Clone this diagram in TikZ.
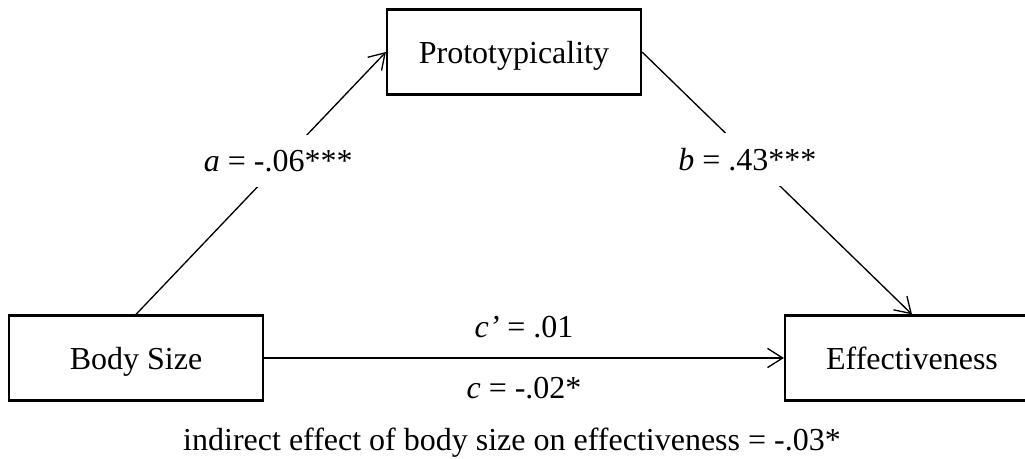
\documentclass[tikz,border=0pt]{standalone}
\usepackage{fontspec}
\setmainfont{Liberation Serif}
\usetikzlibrary{arrows.meta}

\begin{document}
\begin{tikzpicture}[x=0.375pt,y=-0.375pt,line width=0.5pt,>={Straight Barb[length=5.7pt,width=7.2pt]},
  font=\fontsize{12}{14}\selectfont,
  var/.style={draw,line width=0.8pt,minimum width=95.25pt,minimum height=31.9pt,inner sep=0pt,text depth=0pt},
  coef/.style={fill=white,inner xsep=2pt,inner ysep=5.6pt}]
  \useasboundingbox (0,0) rectangle (1025,459);
  \node[var] (proto) at (514,52) {Prototypicality};
  \node[var] (body) at (136,358) {Body Size};
  \node[var] (effect) at (912,358) {Effectiveness};
  % paths a and b, the labels blank out the line
  \draw[->] (body.north) -- node[coef,pos=0.585,xshift=-1.5pt] (apath) {\textit{a} = -.06***} (proto.west);
  \draw[->] (proto.east) -- node[coef,pos=0.41,xshift=-2pt] (bpath) {\textit{b} = .43***} (effect.north);
  % direct path
  \draw[->] (body.east) -- node[midway,above=4pt] (cdir) {\textit{c’} = .01} node[midway,below=3.5pt] (ctot) {\textit{c} = -.02*} (effect.west);
  \node (indirect) at (512,443) {indirect effect of body size on effectiveness = -.03*};
\end{tikzpicture}
\end{document}
